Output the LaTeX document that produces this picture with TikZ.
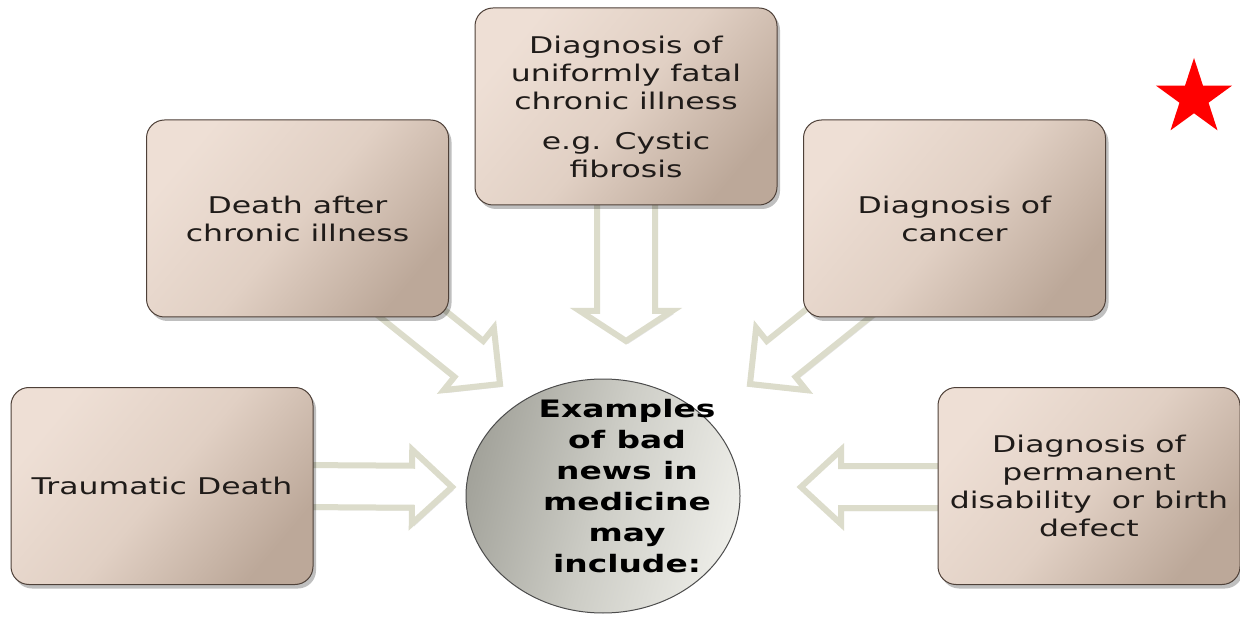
\documentclass[tikz,border=0pt]{standalone}
\usepackage{fontspec}
\setmainfont{DejaVu Sans}[FakeStretch=1.37]
\usetikzlibrary{shapes.geometric,shadows,calc}
\definecolor{boxlight}{HTML}{EEDFD5}
\definecolor{boxmid}{HTML}{E1D0C4}
\definecolor{boxdark}{HTML}{BCA899}
\definecolor{boxline}{HTML}{4E4038}
\definecolor{arrowline}{HTML}{DCDCCB}
\definecolor{circdark}{HTML}{A3A39B}
\definecolor{circmid}{HTML}{CDCDC6}
\definecolor{circlight}{HTML}{EDEDE8}
\definecolor{txt}{HTML}{1F1B19}
\newcommand\blockarrow[5]{%
  \coordinate (bh) at ($(#2)!#5pt!(#1)$);
  \draw[barrow] ($(#1)!#3pt!90:(#2)$) -- ($(bh)!#3pt!90:(#2)$) -- ($(bh)!#4pt!90:(#2)$) -- (#2)
    -- ($(bh)!#4pt!-90:(#2)$) -- ($(bh)!#3pt!-90:(#2)$) -- ($(#1)!#3pt!-90:(#2)$) -- cycle;
}
\tikzset{
  infobox/.style={rectangle, rounded corners=18pt, draw=boxline, line width=1pt,
    minimum width=302pt, minimum height=197pt, align=center, text=txt,
    font=\fontsize{23}{28}\selectfont,
    top color=boxlight, bottom color=boxdark, middle color=boxmid, shading angle=50,
    drop shadow={shadow xshift=3pt, shadow yshift=-4pt, opacity=0.25, fill=black}},
  barrow/.style={draw=arrowline, line width=6pt, fill=white, line join=miter,
    drop shadow={shadow xshift=2pt, shadow yshift=-3pt, opacity=0.10, fill=black}},
}
\begin{document}
\begin{tikzpicture}[x=1pt,y=-1pt]
\useasboundingbox (0,0) rectangle (1240,620);
\fill[white] (0,0) rectangle (1240,620);
% arrow anchors
\coordinate (a1s) at (300,486);  \coordinate (a1t) at (452,487);
\coordinate (a2s) at (383,290);  \coordinate (a2t) at (500,384);
\coordinate (a3s) at (626,195);  \coordinate (a3t) at (626,341);
\coordinate (a4s) at (867,290);  \coordinate (a4t) at (750,384);
\coordinate (a5s) at (950,487);  \coordinate (a5t) at (801,487);
\blockarrow{a1s}{a1t}{21}{37}{40}
\blockarrow{a2s}{a2t}{23}{40}{40}
\blockarrow{a3s}{a3t}{29}{46}{30}
\blockarrow{a4s}{a4t}{23}{40}{40}
\blockarrow{a5s}{a5t}{21}{37}{40}
% boxes
\node[infobox] (trauma) at (162,486) {Traumatic Death};
\node[infobox] (death) at (297.5,218.5) {Death after\\chronic illness};
\node[infobox] (fatal) at (626,106.5) {Diagnosis of\\uniformly fatal\\chronic illness\\[12pt]e.g. Cystic\\fibrosis};
\node[infobox] (cancer) at (954.5,218.5) {Diagnosis of\\cancer};
\node[infobox] (disab) at (1089,486) {Diagnosis of\\permanent\\disability\ \ or birth\\defect};
% hub
\node[ellipse, minimum width=274pt, minimum height=234pt, draw=black!70, line width=1pt,
  left color=circdark, right color=circlight, middle color=circmid, shading angle=75] (hub) at (603,496) {};
\node[font=\bfseries\fontsize{24}{31}\selectfont, align=center, text=black] (hubtext) at (627,486)
  {Examples\\of bad\\news in\\medicine\\may\\include:};
% star
\node[star, star points=5, star point ratio=2.618, minimum size=80pt, inner sep=0pt, fill=red] (mark) at (1194,98) {};
\end{tikzpicture}
\end{document}
